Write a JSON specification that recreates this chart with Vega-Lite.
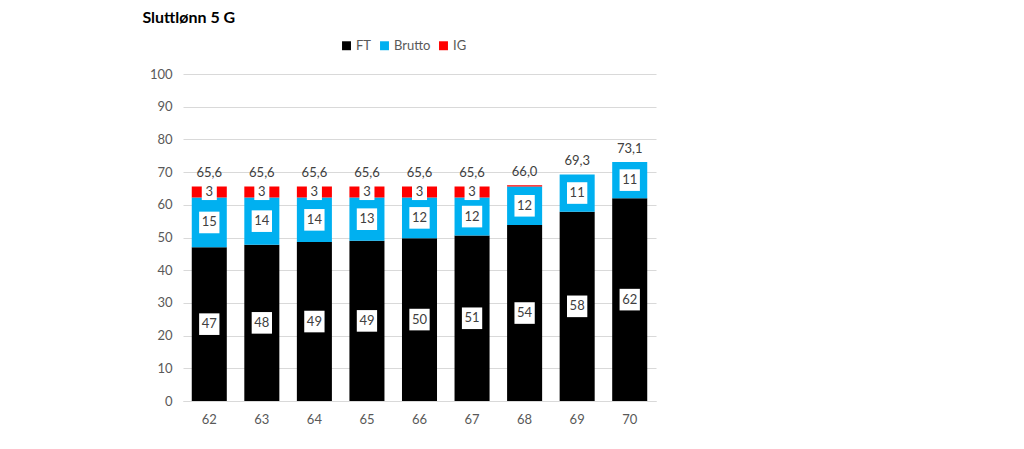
{
  "$schema": "https://vega.github.io/schema/vega-lite/v6.json",
  "width": 473,
  "height": 327,
  "autosize": {"type": "none"},
  "padding": {"left": 183, "top": 74, "right": 368, "bottom": 48},
  "background": "white",
  "title": {
    "text": "Sluttlønn 5 G",
    "anchor": "start",
    "dx": -7,
    "dy": -9,
    "fontSize": 16,
    "font": "Lato",
    "fontWeight": "bold",
    "color": "#000000"
  },
  "data": {
    "values": [
      {"alder": "62", "serie": "FT", "verdi": 47.0},
      {"alder": "62", "serie": "Brutto", "verdi": 15.2},
      {"alder": "62", "serie": "IG", "verdi": 3.4},
      {"alder": "63", "serie": "FT", "verdi": 47.8},
      {"alder": "63", "serie": "Brutto", "verdi": 14.4},
      {"alder": "63", "serie": "IG", "verdi": 3.4},
      {"alder": "64", "serie": "FT", "verdi": 48.6},
      {"alder": "64", "serie": "Brutto", "verdi": 13.6},
      {"alder": "64", "serie": "IG", "verdi": 3.4},
      {"alder": "65", "serie": "FT", "verdi": 49.0},
      {"alder": "65", "serie": "Brutto", "verdi": 13.2},
      {"alder": "65", "serie": "IG", "verdi": 3.4},
      {"alder": "66", "serie": "FT", "verdi": 49.8},
      {"alder": "66", "serie": "Brutto", "verdi": 12.4},
      {"alder": "66", "serie": "IG", "verdi": 3.4},
      {"alder": "67", "serie": "FT", "verdi": 50.6},
      {"alder": "67", "serie": "Brutto", "verdi": 11.6},
      {"alder": "67", "serie": "IG", "verdi": 3.4},
      {"alder": "68", "serie": "FT", "verdi": 53.8},
      {"alder": "68", "serie": "Brutto", "verdi": 11.8},
      {"alder": "68", "serie": "IG", "verdi": 0.4},
      {"alder": "69", "serie": "FT", "verdi": 57.9},
      {"alder": "69", "serie": "Brutto", "verdi": 11.4},
      {"alder": "69", "serie": "IG", "verdi": 0.0},
      {"alder": "70", "serie": "FT", "verdi": 62.0},
      {"alder": "70", "serie": "Brutto", "verdi": 11.1},
      {"alder": "70", "serie": "IG", "verdi": 0.0}
    ]
  },
  "transform": [
    {"calculate": "indexof(['FT','Brutto','IG'], datum.serie)", "as": "rekkefolge"}
  ],
  "encoding": {
    "x": {
      "field": "alder",
      "type": "ordinal",
      "scale": {"paddingInner": 0.3333, "paddingOuter": 0.1667},
      "axis": {
        "title": null,
        "labelAngle": 0,
        "labelColor": "#595959",
        "labelFontSize": 13,
        "labelFont": "Lato",
        "labelPadding": 12,
        "ticks": false,
        "domainColor": "#d9d9d9",
        "grid": false
      }
    }
  },
  "layer": [
    {
      "mark": {"type": "bar"},
      "encoding": {
        "y": {
          "field": "verdi",
          "type": "quantitative",
          "stack": "zero",
          "scale": {"domain": [0, 100]},
          "axis": {
            "title": null,
            "values": [0, 10, 20, 30, 40, 50, 60, 70, 80, 90, 100],
            "labelOverlap": false,
            "labelColor": "#595959",
            "labelFontSize": 13,
            "labelFont": "Lato",
            "labelPadding": 11,
            "ticks": false,
            "domain": false,
            "gridColor": "#d9d9d9",
            "gridWidth": 1
          }
        },
        "color": {
          "field": "serie",
          "type": "nominal",
          "sort": ["FT", "Brutto", "IG"],
          "scale": {"domain": ["FT", "Brutto", "IG"], "range": ["#000000", "#00b0f0", "#ff0000"]},
          "legend": {
            "title": null,
            "orient": "none",
            "direction": "horizontal",
            "legendX": 157,
            "legendY": -35,
            "symbolType": "square",
            "symbolSize": 80,
            "symbolStrokeWidth": 0,
            "labelColor": "#595959",
            "labelFontSize": 13,
            "labelFont": "Lato",
            "labelOffset": 3,
            "columnPadding": 6
          }
        },
        "order": {"field": "rekkefolge", "type": "quantitative"}
      }
    },
    {
      "transform": [
        {"stack": "verdi", "groupby": ["alder"], "sort": [{"field": "rekkefolge", "order": "ascending"}], "as": ["y0", "y1"]},
        {"calculate": "(datum.y0 + datum.y1) / 2", "as": "midt"},
        {"filter": "datum.verdi >= 1"}
      ],
      "layer": [
        {
          "mark": {"type": "point", "shape": "M-0.94,-1H0.94V1H-0.94Z", "filled": true, "fill": "white", "opacity": 1, "strokeWidth": 0},
          "encoding": {
            "y": {
              "field": "midt",
              "type": "quantitative",
              "axis": {
                "title": null,
                "values": [0, 10, 20, 30, 40, 50, 60, 70, 80, 90, 100],
                "labelOverlap": false,
                "labelColor": "#595959",
                "labelFontSize": 13,
                "labelFont": "Lato",
                "labelPadding": 11,
                "ticks": false,
                "domain": false,
                "gridColor": "#d9d9d9",
                "gridWidth": 1
              }
            },
            "size": {
              "condition": {"test": "datum.serie === 'IG'", "value": 256},
              "value": 467
            }
          }
        },
        {
          "mark": {"type": "text", "color": "#404040", "fontSize": 13, "font": "Lato", "baseline": "middle"},
          "encoding": {
            "y": {
              "field": "midt",
              "type": "quantitative",
              "axis": {
                "title": null,
                "values": [0, 10, 20, 30, 40, 50, 60, 70, 80, 90, 100],
                "labelOverlap": false,
                "labelColor": "#595959",
                "labelFontSize": 13,
                "labelFont": "Lato",
                "labelPadding": 11,
                "ticks": false,
                "domain": false,
                "gridColor": "#d9d9d9",
                "gridWidth": 1
              }
            },
            "text": {"field": "verdi", "type": "quantitative", "format": ".0f"}
          }
        }
      ]
    },
    {
      "transform": [
        {"aggregate": [{"op": "sum", "field": "verdi", "as": "total"}], "groupby": ["alder"]},
        {"calculate": "replace(format(datum.total, '.1f'), '.', ',')", "as": "totaltekst"}
      ],
      "mark": {"type": "text", "color": "#404040", "fontSize": 13, "font": "Lato", "baseline": "alphabetic", "dy": -9},
      "encoding": {
        "y": {
          "field": "total",
          "type": "quantitative",
          "axis": {
            "title": null,
            "values": [0, 10, 20, 30, 40, 50, 60, 70, 80, 90, 100],
            "labelOverlap": false,
            "labelColor": "#595959",
            "labelFontSize": 13,
            "labelFont": "Lato",
            "labelPadding": 11,
            "ticks": false,
            "domain": false,
            "gridColor": "#d9d9d9",
            "gridWidth": 1
          }
        },
        "text": {"field": "totaltekst", "type": "nominal"}
      }
    }
  ],
  "config": {
    "view": {"stroke": null}
  }
}
